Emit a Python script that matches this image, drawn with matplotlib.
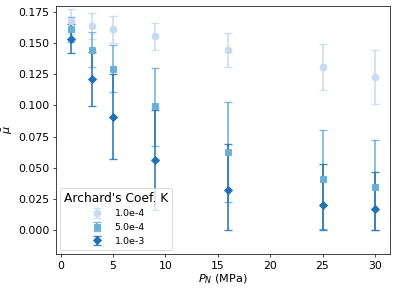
import numpy as np
import matplotlib
matplotlib.use("Agg")
import matplotlib.pyplot as plt
from matplotlib.colors import to_rgba

pressure = [1, 3, 5, 9, 16, 25, 30]
labels = ["1.0e-4", "5.0e-4", "1.0e-3"]

mean_1e4 = [0.1674, 0.1637, 0.1608, 0.1552, 0.1442, 0.1304, 0.1229]
lo_1e4 = [0.1575, 0.1528, 0.1496, 0.1440, 0.1304, 0.1122, 0.1010]
hi_1e4 = [0.1773, 0.1740, 0.1717, 0.1661, 0.1580, 0.1493, 0.1445]

mean_5e4 = [0.1608, 0.1445, 0.1293, 0.0994, 0.0624, 0.0410, 0.0346]
lo_5e4 = [0.1508, 0.1309, 0.1106, 0.0677, 0.0226, 0.0013, 0.0005]
hi_5e4 = [0.1709, 0.1584, 0.1482, 0.1300, 0.1024, 0.0802, 0.0722]

mean_1e3 = [0.1530, 0.1210, 0.0906, 0.0560, 0.0322, 0.0205, 0.0168]
lo_1e3 = [0.1420, 0.0992, 0.0568, 0.0162, 0.0005, 0.0000, 0.0000]
hi_1e3 = [0.1648, 0.1428, 0.1250, 0.0960, 0.0690, 0.0528, 0.0469]

colors = ["#c6dbef", "#6baed6", "#2171b5"]
markers = ["o", "s", "D"]

DPI = 65
fig = plt.figure(figsize=(396 / DPI, 291 / DPI), dpi=DPI)
ax = fig.add_axes([0.1407, 0.126, 0.985 - 0.1407, 0.980 - 0.126])

series = [(mean_1e4, lo_1e4, hi_1e4), (mean_5e4, lo_5e4, hi_5e4), (mean_1e3, lo_1e3, hi_1e3)]
for (m, lo, hi), c, mk, lab in zip(series, colors, markers, labels):
    m = np.array(m); lo = np.array(lo); hi = np.array(hi)
    ax.errorbar(pressure, m, yerr=[m - lo, hi - m], fmt=mk, color=c,
                ecolor=to_rgba(c, 0.85),
                markersize=7.5 if mk != "D" else 6.5, capsize=4, elinewidth=2,
                capthick=1.5, label=lab)

ax.set_xlim(-0.48, 31.45)
ax.set_ylim(-0.0192, 0.1797)
ax.set_xticks([0, 5, 10, 15, 20, 25, 30])
ax.set_yticks([0.0, 0.025, 0.05, 0.075, 0.1, 0.125, 0.15, 0.175])
ax.set_yticklabels(["0.000", "0.025", "0.050", "0.075", "0.100", "0.125", "0.150", "0.175"])
ax.tick_params(labelsize=12)
ax.set_xlabel("$P_N$ (MPa)", fontsize=12.5, labelpad=2)
ax.set_ylabel(r"$\bar{\mu}$", fontsize=12.5, labelpad=3)
leg = ax.legend(title="Archard's Coef. K", loc="lower left", fontsize=10.5,
                title_fontsize=13.5)
fig.savefig("out.png", dpi=DPI)
